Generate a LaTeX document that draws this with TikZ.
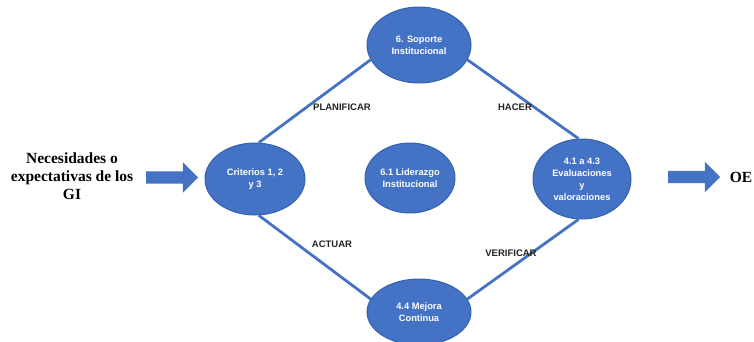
\documentclass[tikz,border=0pt]{standalone}
\usepackage{fontspec}
\setmainfont{Liberation Serif}
\setsansfont{Liberation Sans}
\usetikzlibrary{shapes.geometric,shapes.arrows}
\definecolor{cblue}{HTML}{4472C4}
\definecolor{cdark}{HTML}{3561B0}
\definecolor{ctxt}{HTML}{222222}
\tikzset{
  oval/.style={ellipse, fill=cblue, draw=cdark, line width=1pt, inner sep=0pt,
    text=white, font=\sffamily\bfseries\fontsize{9.3}{12}\selectfont, align=center},
  link/.style={draw=cblue, line width=2.8pt},
  phase/.style={text=ctxt, font=\sffamily\bfseries\fontsize{9.5}{11}\selectfont},
  blockarrow/.style={single arrow, fill=cblue, draw=none, minimum width=29pt,
    single arrow head extend=9pt, minimum height=52pt, inner sep=0pt,
    text height=12pt, text depth=0pt, text width=0pt},
  sidetext/.style={font=\bfseries\fontsize{15.5}{18}\selectfont, align=center, text=black}
}
\begin{document}
\begin{tikzpicture}[x=1pt,y=-1pt]
\useasboundingbox (0,0) rectangle (754,341);
\node[oval, minimum width=104pt, minimum height=76pt] (sop) at (419,45) {6. Soporte\\Institucional};
\node[oval, minimum width=100pt, minimum height=72pt] (crit) at (255,179) {Criterios 1, 2\\y 3};
\node[oval, minimum width=90pt, minimum height=70pt] (lid) at (410,178) {6.1 Liderazgo\\Institucional};
\node[oval, minimum width=98pt, minimum height=80pt] (eval) at (582,179) {4.1 a 4.3\\Evaluaciones\\y\\valoraciones};
\node[oval, minimum width=104pt, minimum height=66pt] (mej) at (419,312) {4.4 Mejora\\Continua};
\draw[link] (crit.84) -- (sop.197);
\draw[link] (sop.-17) -- (eval.95);
\draw[link] (crit.-84) -- (mej.165);
\draw[link] (eval.-95) -- (mej.15);
\node[phase] (plan) at (342,107) {PLANIFICAR};
\node[phase] (hac) at (515,107) {HACER};
\node[phase] (act) at (332,244) {ACTUAR};
\node[phase] (ver) at (511,253) {VERIFICAR};
\node[blockarrow] (a1) at (169,177.5) {};
\node[blockarrow] (a2) at (691,177) {};
\node[sidetext] (nec) at (72,176) {Necesidades o\\expectativas de los\\GI};
\node[sidetext] (oe) at (741,177) {OE};
\end{tikzpicture}
\end{document}
